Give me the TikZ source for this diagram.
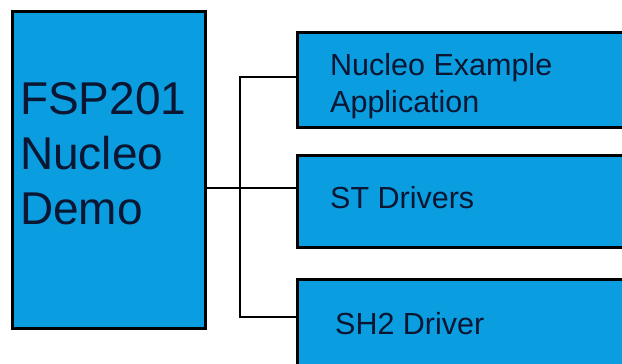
\documentclass[tikz,border=0pt]{standalone}
\usepackage{fontspec}
\setmainfont{Liberation Sans}
\usetikzlibrary{positioning}
\definecolor{BoxBlue}{HTML}{0A9EE0}
\definecolor{TextNavy}{HTML}{0B1633}
\begin{document}
\begin{tikzpicture}[x=1pt,y=-1pt,
  blk/.style={draw=black,line width=3pt,fill=BoxBlue,inner sep=0pt,anchor=north west},
  bigtxt/.style={anchor=north west,inner sep=0pt,align=left,text=TextNavy,font=\fontsize{46}{55}\selectfont},
  smalltxt/.style={anchor=north west,inner sep=0pt,align=left,text=TextNavy,font=\fontsize{30.5}{37}\selectfont},
  wire/.style={draw=black,line width=2.8pt}]
\useasboundingbox (0,0) rectangle (622,364);
\clip (0,0) rectangle (622,364);
\fill[white] (0,0) rectangle (622,364);
\node[blk,minimum width=193pt,minimum height=317pt] (demo) at (11,9.5) {};
\node[blk,minimum width=340pt,minimum height=95pt] (app) at (296,30.5) {};
\node[blk,minimum width=340pt,minimum height=92pt] (drv) at (296,153.5) {};
\node[blk,minimum width=340pt,minimum height=110pt] (sh2) at (296,277.5) {};
\node[bigtxt] (demotext) at (20,82) {FSP201\\Nucleo\\Demo};
\node[smalltxt] (apptext) at (330,53) {Nucleo Example\\Application};
\node[smalltxt] (drvtext) at (330,186) {ST Drivers};
\node[smalltxt] (sh2text) at (335,312) {SH2 Driver};
\coordinate (jt) at (240,77);
\coordinate (jm) at (240,188);
\coordinate (jb) at (240,317);
\draw[wire] (demo.east |- jm) -- (drv.west |- jm);
\draw[wire] (app.west |- jt) -- (jt) -- (jb) -- (sh2.west |- jb);
\end{tikzpicture}
\end{document}
